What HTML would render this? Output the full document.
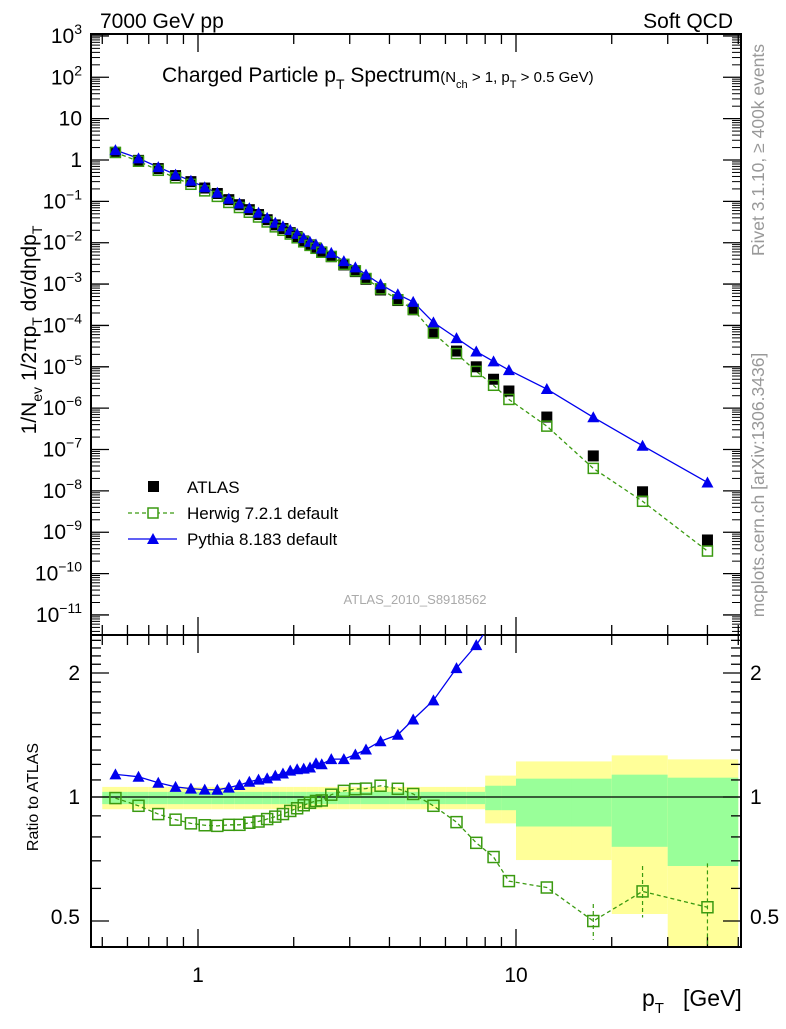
<!DOCTYPE html>
<html><head><meta charset="utf-8"><style>
body{margin:0;background:#fff;}
svg{font-family:"Liberation Sans",sans-serif;}
</style></head><body>
<svg id="chart" width="786" height="1024" viewBox="0 0 786 1024" xmlns="http://www.w3.org/2000/svg">
<text x="100" y="28" font-size="21">7000 GeV pp</text>
<text x="733" y="28" font-size="21" text-anchor="end">Soft QCD</text>
<text x="162" y="82" font-size="21">Charged Particle p<tspan font-size="14" dy="7">T</tspan><tspan dy="-7"> Spectrum</tspan><tspan font-size="15">(N<tspan font-size="11" dy="6">ch</tspan><tspan dy="-6"> &gt; 1, p</tspan><tspan font-size="11" dy="6">T</tspan><tspan dy="-6"> &gt; 0.5 GeV)</tspan></tspan></text>
<text transform="translate(36,330) rotate(-90)" font-size="21" text-anchor="middle">1/N<tspan font-size="14" dy="6">ev</tspan><tspan dy="-6"> 1/2πp</tspan><tspan font-size="14" dy="6">T</tspan><tspan dy="-6"> dσ/dηdp</tspan><tspan font-size="14" dy="6">T</tspan></text>
<text transform="translate(764,150) rotate(-90)" font-size="17.5" fill="#999" text-anchor="middle">Rivet 3.1.10, ≥ 400k events</text>
<text transform="translate(764,485) rotate(-90)" font-size="17.5" fill="#999" text-anchor="middle">mcplots.cern.ch [arXiv:1306.3436]</text>
<text x="415" y="604" font-size="13" fill="#aaa" text-anchor="middle">ATLAS_2010_S8918562</text>
<text transform="translate(38,797) rotate(-90)" font-size="16" text-anchor="middle">Ratio to ATLAS</text>
<text x="642" y="1006" font-size="23">p<tspan font-size="15" dy="7">T</tspan><tspan dy="-7" x="683">[GeV]</tspan></text>
<g id="bands"></g><g id="axes"></g><g id="series"></g>
<g>
<rect x="148" y="481" width="11" height="11" fill="#000"/>
<text x="187" y="493" font-size="17">ATLAS</text>
<line x1="128" y1="513" x2="177" y2="513" stroke="#3a9a10" stroke-dasharray="4,3" stroke-width="1.3"/>
<rect x="148" y="508" width="10" height="10" fill="#fff" stroke="#3a9a10" stroke-width="1.5"/>
<text x="187" y="519" font-size="17">Herwig 7.2.1 default</text>
<line x1="128" y1="539" x2="177" y2="539" stroke="#0000ee" stroke-width="1.3"/>
<polygon points="153,533 159,544 147,544" fill="#0000ee"/>
<text x="187" y="545" font-size="17">Pythia 8.183 default</text>
</g>
</svg>
<script>
const pT = [0.55,0.65,0.75,0.85,0.95,1.05,1.15,1.25,1.35,1.45,1.55,1.65,1.75,1.85,1.95,2.05,2.15,2.25,2.35,2.45,2.625,2.875,3.125,3.375,3.75,4.25,4.75,5.5,6.5,7.5,8.5,9.5,12.5,17.5,25,40];
const binEdges = [0.5,0.6,0.7,0.8,0.9,1.0,1.1,1.2,1.3,1.4,1.5,1.6,1.7,1.8,1.9,2.0,2.1,2.2,2.3,2.4,2.5,2.75,3,3.25,3.5,4,4.5,5,6,7,8,9,10,15,20,30,50];
const atlas = [1.53,0.98,0.62,0.42,0.30,0.21,0.155,0.11,0.083,0.063,0.048,0.036,0.027,0.022,0.0175,0.014,0.011,0.0089,0.0075,0.006,0.0046,0.0029,0.002,0.0013,0.00072,0.0004,0.00024,6.9e-5,2.4e-5,1.0e-5,5.0e-6,2.6e-6,6.1e-7,7.0e-8,9.5e-9,6.5e-10];
const herwigRatio = [0.994,0.952,0.909,0.881,0.863,0.854,0.851,0.856,0.856,0.866,0.872,0.884,0.896,0.909,0.925,0.939,0.955,0.968,0.978,0.981,1.013,1.035,1.045,1.048,1.065,1.047,1.017,0.952,0.869,0.774,0.715,0.625,0.603,0.50,0.59,0.54];
const herwigErrLo = [0,0,0,0,0,0,0,0,0,0,0,0,0,0,0,0,0,0,0,0,0,0,0,0,0,0,0,0,0,0,0,0,0,0.45,0.51,0.33];
const herwigErrHi = [0,0,0,0,0,0,0,0,0,0,0,0,0,0,0,0,0,0,0,0,0,0,0,0,0,0,0,0,0,0,0,0,0,0.55,0.68,0.69];
const pythiaRatio = [1.135,1.120,1.083,1.058,1.048,1.042,1.041,1.054,1.069,1.089,1.102,1.110,1.127,1.140,1.159,1.168,1.172,1.179,1.208,1.201,1.236,1.236,1.268,1.304,1.366,1.416,1.542,1.716,2.055,2.337,2.7,3.2,4.75,8.6,13,24.6];
const statLo = [0.961,0.961,0.961,0.961,0.961,0.961,0.961,0.961,0.961,0.961,0.961,0.961,0.961,0.961,0.961,0.961,0.961,0.961,0.961,0.961,0.961,0.961,0.961,0.961,0.961,0.961,0.961,0.961,0.961,0.961,0.929,0.929,0.848,0.848,0.757,0.68];
const statHi = [1.029,1.029,1.029,1.029,1.029,1.029,1.029,1.029,1.029,1.029,1.029,1.029,1.029,1.029,1.029,1.029,1.029,1.029,1.029,1.029,1.029,1.029,1.029,1.029,1.029,1.029,1.029,1.029,1.029,1.029,1.065,1.065,1.108,1.108,1.133,1.114];
const totLo = [0.934,0.934,0.934,0.934,0.934,0.934,0.934,0.934,0.934,0.934,0.934,0.934,0.934,0.934,0.934,0.934,0.934,0.934,0.934,0.934,0.934,0.934,0.934,0.934,0.934,0.934,0.934,0.934,0.934,0.934,0.863,0.863,0.703,0.703,0.52,0.3];
const totHi = [1.058,1.058,1.058,1.058,1.058,1.058,1.058,1.058,1.058,1.058,1.058,1.058,1.058,1.058,1.058,1.058,1.058,1.058,1.058,1.058,1.058,1.058,1.058,1.058,1.058,1.058,1.058,1.058,1.058,1.058,1.127,1.127,1.22,1.22,1.262,1.234];
const mainTickExps = [3,2,1,0,-1,-2,-3,-4,-5,-6,-7,-8,-9,-10,-11];
const ratioTickLabels = ["0.5","1","2"];
const xTickLabels = ["1","10"];

const NS="http://www.w3.org/2000/svg";
const L=91,R=741,T=34,MB=635,RB=947;
const X=v=>198+318*Math.log10(v);
const Y=v=>160-41.36*Math.log10(v);
const YR=v=>Math.min(RB,Math.max(MB,797-412*Math.log10(v)));
function mk(parent,tag,attrs){const e=document.createElementNS(NS,tag);for(const k in attrs)e.setAttribute(k,attrs[k]);document.getElementById(parent).appendChild(e);return e;}

for(let i=0;i<pT.length;i++){
  const x0=Math.max(L+1,X(binEdges[i])), x1=Math.min(R,X(binEdges[i+1]));
  const b1=mk('bands','rect',{x:x0,y:YR(totHi[i]),width:x1-x0,height:YR(totLo[i])-YR(totHi[i]),fill:'#ffff99'});
  
  
  const b2=mk('bands','rect',{x:x0,y:YR(statHi[i]),width:x1-x0,height:YR(statLo[i])-YR(statHi[i]),fill:'#99ff99'});
  
  
}
const ref=mk('bands','line',{x1:L,x2:R,y1:YR(1),y2:YR(1),stroke:'#000','stroke-width':1.3});



for(const [y0,y1,n] of [[T,MB,'main-frame'],[MB,RB,'ratio-frame']]){
  const f=mk('axes','rect',{x:L,y:y0,width:R-L,height:y1-y0,fill:'none',stroke:'#000','stroke-width':2});
  
  
}
const minors=[];
for(const d of [0.1,1,10]) for(let k=1;k<10;k++){const v=k*d; if(X(v)>L&&X(v)<R) minors.push(v);}
for(const v of minors){
  const major=(v===1||v===10); const len=major?18:10; const x=X(v);
  for(const [yb,dir] of [[T,1],[MB,-1],[MB,1],[RB,-1]]) mk('axes','line',{x1:x,x2:x,y1:yb,y2:yb+dir*len,stroke:'#000','stroke-width':1.3});
}
xTickLabels.forEach(s=>{const t=mk('axes','text',{x:X(+s),y:982,'font-size':21,'text-anchor':'middle'});t.textContent=s;
  
  });
mainTickExps.forEach(e=>{
  const y=Y(Math.pow(10,e));
  for(const [xb,dir] of [[L,1],[R,-1]]) mk('axes','line',{x1:xb,x2:xb+dir*18,y1:y,y2:y,stroke:'#000','stroke-width':1.3});
  for(let k=2;k<10;k++){const yy=Y(k*Math.pow(10,e-1)); if(yy>T&&yy<MB) for(const [xb,dir] of [[L,1],[R,-1]]) mk('axes','line',{x1:xb,x2:xb+dir*9,y1:yy,y2:yy,stroke:'#000','stroke-width':1});}
  const t=mk('axes','text',{x:82,y:y+7,'font-size':21,'text-anchor':'end'});
  
  
  if(e===0)t.textContent='1'; else if(e===1)t.textContent='10';
  else{t.textContent='10';const s=document.createElementNS(NS,'tspan');s.setAttribute('font-size',14);s.setAttribute('dy',-9);s.textContent=(e<0?'−':'')+Math.abs(e);t.appendChild(s);}
});
for(let v=0.4;v<2.5;v+=0.1){const r=Math.round(v*10)/10;const y=YR(r);if(y<=MB+1||y>=RB-1)continue;
  const major=(r===0.5||r===1||r===2);
  for(const [xb,dir] of [[L,1],[R,-1]]) mk('axes','line',{x1:xb,x2:xb+dir*(major?18:10),y1:y,y2:y,stroke:'#000','stroke-width':1.3});}
ratioTickLabels.forEach(s=>{
  const y=YR(+s)+7-(s==="0.5"?4:0);
  const t1=mk('axes','text',{x:80,y:y,'font-size':21,'text-anchor':'end'});t1.textContent=s;
  
  
  const t2=mk('axes','text',{x:750,y:y,'font-size':21});t2.textContent=s;
  
  
});

const herwig=atlas.map((a,i)=>a*herwigRatio[i]);
const pythia=atlas.map((a,i)=>a*pythiaRatio[i]);
const G='#3a9a10',B='#0000ee';
function poly(pts,col,dash,name){const p=mk('series','polyline',{points:pts.map(p=>p.join(',')).join(' '),fill:'none',stroke:col,'stroke-width':1.3,'stroke-dasharray':dash||'none'});
  
  }
poly(pT.map((x,i)=>[X(x),Y(herwig[i])]),G,'4,3','herwig-line');
poly(pT.map((x,i)=>[X(x),Y(pythia[i])]),B,null,'pythia-line');
pT.forEach((x,i)=>{
  const a=mk('series','rect',{x:X(x)-5.5,y:Y(atlas[i])-5.5,width:11,height:11,fill:'#000'});
  
  
  const h=mk('series','rect',{x:X(x)-5,y:Y(herwig[i])-5,width:10,height:10,fill:'none',stroke:G,'stroke-width':1.5});
  
  
  const yp=Y(pythia[i]);
  const p=mk('series','polygon',{points:`${X(x)},${yp-6} ${X(x)+6},${yp+5} ${X(x)-6},${yp+5}`,fill:B});
  
  
});
const cp=document.createElementNS(NS,'clipPath');cp.setAttribute('id','rc');const cr=document.createElementNS(NS,'rect');
cr.setAttribute('x',L);cr.setAttribute('y',MB);cr.setAttribute('width',R-L);cr.setAttribute('height',RB-MB);cp.appendChild(cr);document.getElementById('chart').appendChild(cp);
const rg=mk('series','g',{'clip-path':'url(#rc)'});rg.setAttribute('id','rg');
function rpoly(pts,col,dash,name){const p=document.createElementNS(NS,'polyline');p.setAttribute('points',pts.map(p=>p.join(',')).join(' '));p.setAttribute('fill','none');p.setAttribute('stroke',col);p.setAttribute('stroke-width',1.3);if(dash)p.setAttribute('stroke-dasharray',dash);
  
  
  rg.appendChild(p);}
const YRu=v=>797-412*Math.log10(v);
rpoly(pT.map((x,i)=>[X(x),YRu(herwigRatio[i])]),G,'4,3','herwig-ratio-line');
rpoly(pT.map((x,i)=>[X(x),YRu(pythiaRatio[i])]),B,null,'pythia-ratio-line');
pT.forEach((x,i)=>{
  if(herwigErrHi[i]>0){const e=mk('rg','line',{x1:X(x),x2:X(x),y1:YR(herwigErrHi[i]),y2:YR(herwigErrLo[i]),stroke:G,'stroke-width':1.2,'stroke-dasharray':'4,3'});
    
    }
  const h=mk('rg','rect',{x:X(x)-5.5,y:YRu(herwigRatio[i])-5.5,width:11,height:11,fill:'none',stroke:G,'stroke-width':1.5});
  
  
  const yp=YRu(pythiaRatio[i]);
  const p=mk('rg','polygon',{points:`${X(x)},${yp-6} ${X(x)+6},${yp+5} ${X(x)-6},${yp+5}`,fill:B});
  
  
});
</script>
</body></html>
